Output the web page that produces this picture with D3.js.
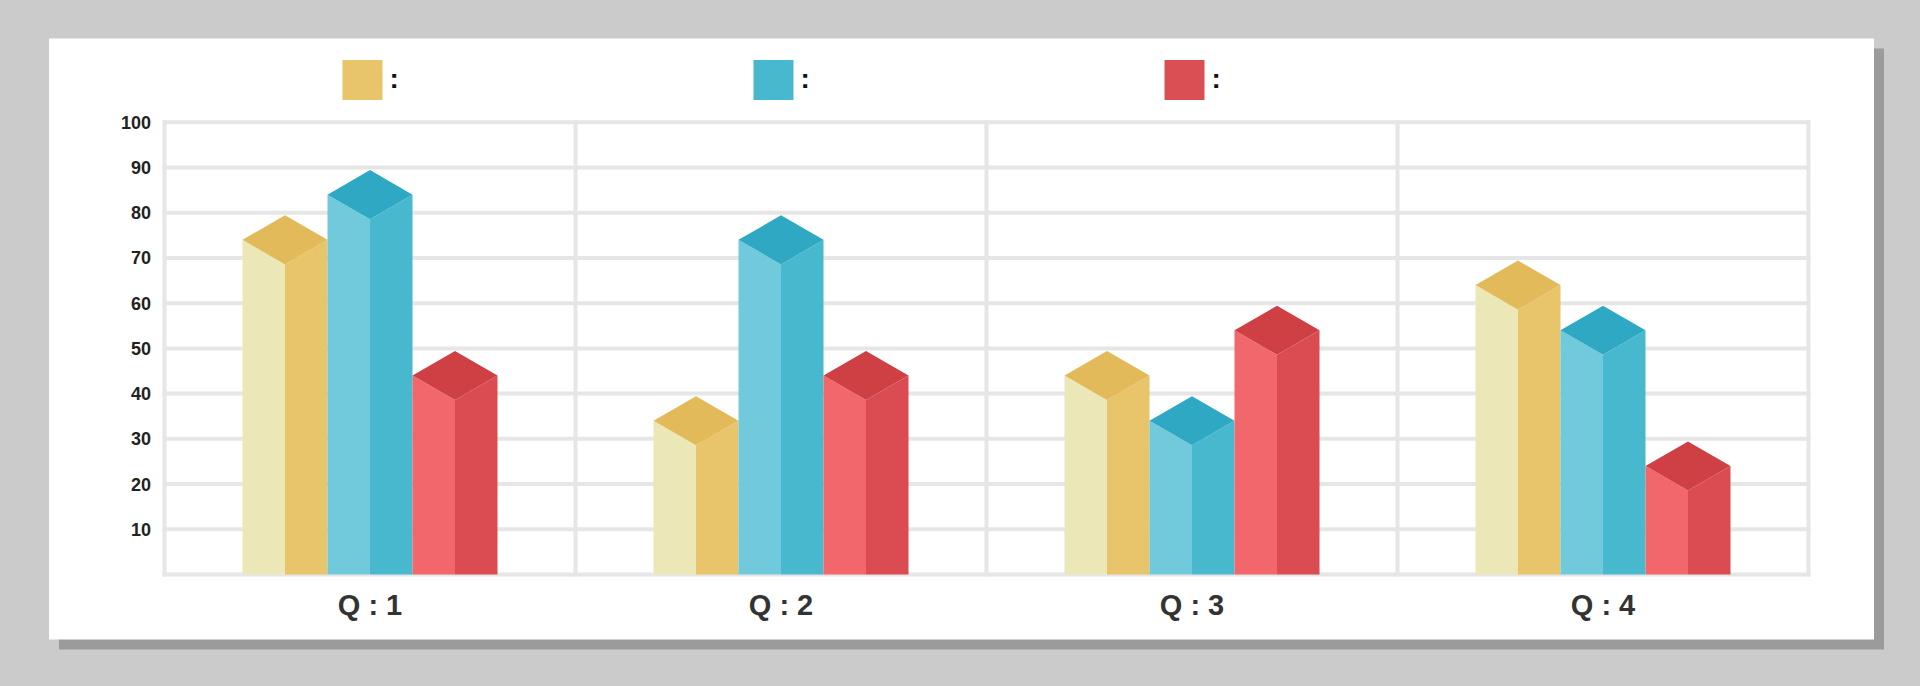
<!DOCTYPE html>
<html>
<head>
<meta charset="utf-8">
<script src="https://cdn.jsdelivr.net/npm/d3@7/dist/d3.min.js"></script>
<style>
  html, body { margin: 0; padding: 0; background: #cbcbcb; }
  svg { display: block; }
</style>
</head>
<body>
<svg id="chart" width="1920" height="686"></svg>
<script>
// ---- data ----
const categories = ["Q : 1", "Q : 2", "Q : 3", "Q : 4"];
const seriesKeys = ["s1", "s2", "s3"];
const seriesLabels = ["", "", ""];
const series1 = [74, 34, 44, 64];
const series2 = [84, 74, 34, 54];
const series3 = [44, 44, 54, 24];
const yTicks = [10, 20, 30, 40, 50, 60, 70, 80, 90, 100];
const gridValues = [0, 10, 20, 30, 40, 50, 60, 70, 80, 90, 100];

// ---- styles ----
const faceColors = {
  s1: { front: "#ECE7B6", side: "#E8C46B", top: "#E2BA5A" },
  s2: { front: "#70CADB", side: "#48B8CE", top: "#2EA8C3" },
  s3: { front: "#F1676B", side: "#DA4C51", top: "#CF4045" }
};
const legendColors = { s1: "#E8C46B", s2: "#48B8CE", s3: "#D94F53" };
const gridColor = "#e6e6e6";

const svg = d3.select("#chart");

// background card + shadow
svg.append("rect").attr("x", 0).attr("y", 0).attr("width", 1920).attr("height", 686).attr("fill", "#cbcbcb");
svg.append("rect").attr("x", 59).attr("y", 48.5).attr("width", 1825).attr("height", 601).attr("fill", "#9b9b9b");
svg.append("rect").attr("x", 49).attr("y", 38.5).attr("width", 1825).attr("height", 601).attr("fill", "#ffffff");

// scales
const plotLeft = 164.5, plotRight = 1808.5, plotTop = 122.3, plotBottom = 574.5;
const y = d3.scaleLinear().domain([0, 100]).range([plotBottom, plotTop]);
const x = d3.scaleBand().domain(categories).range([plotLeft, plotRight]).padding(0);
const groupHalf = 127.5;
const xs = d3.scaleBand().domain(seriesKeys).range([-groupHalf, groupHalf]).padding(0);

// grid
const grid = svg.append("g");
grid.selectAll("line.h").data(gridValues).join("line")
  .attr("x1", plotLeft - 2).attr("x2", plotRight + 2)
  .attr("y1", d => y(d)).attr("y2", d => y(d))
  .attr("stroke", gridColor).attr("stroke-width", 4);
const vLines = categories.map(c => x(c)).concat([x(categories[categories.length - 1]) + x.bandwidth()]);
grid.selectAll("line.v").data(vLines).join("line")
  .attr("x1", d => d).attr("x2", d => d)
  .attr("y1", plotTop - 2).attr("y2", plotBottom + 2)
  .attr("stroke", gridColor).attr("stroke-width", 4);

// y labels
svg.append("g").selectAll("text").data(yTicks).join("text")
  .attr("x", 151).attr("y", d => y(d))
  .attr("dy", "0.36em")
  .attr("text-anchor", "end")
  .attr("font-family", "Liberation Sans, Arial, sans-serif")
  .attr("font-weight", "bold").attr("font-size", 18)
  .attr("fill", "#222")
  .text(d => d);

// x labels
svg.append("g").selectAll("text").data(categories).join("text")
  .attr("x", d => x(d) + x.bandwidth() / 2).attr("y", 615)
  .attr("text-anchor", "middle")
  .attr("font-family", "Liberation Sans, Arial, sans-serif")
  .attr("font-weight", "bold").attr("font-size", 29)
  .attr("fill", "#333")
  .text(d => d);

// bars
const allSeries = [series1, series2, series3];
const bars = [];
categories.forEach((c, i) => {
  seriesKeys.forEach((k, j) => {
    bars.push({ cat: c, key: k, value: allSeries[j][i] });
  });
});
const w = xs.bandwidth() / 2;
const dy = w * Math.tan(Math.PI / 6);
const barG = svg.append("g").selectAll("g").data(bars).join("g")
  .attr("transform", d => `translate(${x(d.cat) + x.bandwidth() / 2 + xs(d.key)},0)`);

barG.append("path")
  .attr("fill", d => faceColors[d.key].front)
  .attr("d", d => {
    const yc = y(d.value), yb = y(0);
    return `M0,${yc}L${w},${yc + dy}L${w},${yb}L0,${yb}Z`;
  });
barG.append("path")
  .attr("fill", d => faceColors[d.key].side)
  .attr("d", d => {
    const yc = y(d.value), yb = y(0);
    return `M${w},${yc + dy}L${2 * w},${yc}L${2 * w},${yb}L${w},${yb}Z`;
  });
barG.append("path")
  .attr("fill", d => faceColors[d.key].top)
  .attr("d", d => {
    const yc = y(d.value);
    return `M0,${yc}L${w},${yc - dy}L${2 * w},${yc}L${w},${yc + dy}Z`;
  });

// legend: each item centred over a category section
const legendG = svg.append("g").selectAll("g").data(seriesKeys).join("g")
  .attr("transform", (k, i) => `translate(${x(categories[i]) + x.bandwidth() / 2 - 27.5},60)`);
legendG.append("rect")
  .attr("x", 0).attr("y", 0).attr("width", 40).attr("height", 40)
  .attr("fill", k => legendColors[k]);
legendG.append("text")
  .attr("x", 47).attr("y", 27.5)
  .attr("font-family", "Liberation Sans, Arial, sans-serif")
  .attr("font-weight", "bold").attr("font-size", 28)
  .attr("fill", "#111")
  .text((k, i) => seriesLabels[i] + ":");
</script>
</body>
</html>
